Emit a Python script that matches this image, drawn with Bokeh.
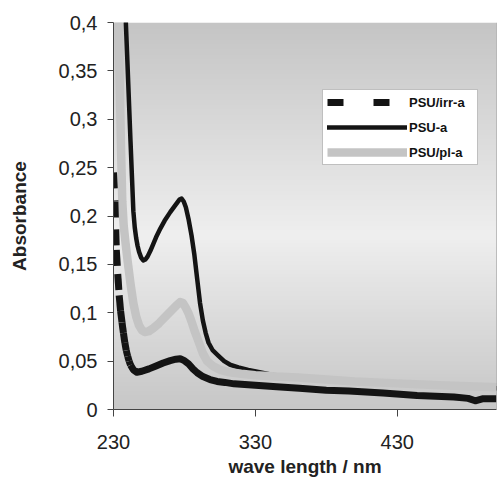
import numpy as np
from bokeh.plotting import figure
from bokeh.models import Range1d, FixedTicker, Legend, LegendItem, Span
from bokeh.embed import file_html
from bokeh.resources import INLINE

# ---------------- data ----------------
psu_x = [237.5, 238.7, 240.0, 242.0, 244.0, 245.0, 246.0, 247.0, 248.0, 249.5, 251.0, 252.5,
         254.0, 256.0, 258.0, 260.0, 263.0, 266.0, 270.0, 274.0, 276.5, 278.0, 279.5, 281.0,
         283.0, 285.0, 287.0, 289.0, 291.0, 293.0, 295.0, 297.0, 300.0, 304.0, 308.0, 312.0,
         318.0, 325.0, 333.0, 345.0, 370.0, 400.0, 450.0, 500.0]
psu_y = [0.445, 0.400, 0.352, 0.277, 0.205, 0.188, 0.177, 0.169, 0.163, 0.157, 0.154, 0.155,
         0.158, 0.164, 0.171, 0.178, 0.187, 0.195, 0.204, 0.212, 0.217, 0.218, 0.215, 0.209,
         0.196, 0.180, 0.160, 0.135, 0.110, 0.092, 0.079, 0.069, 0.061, 0.0555, 0.0500, 0.0465,
         0.0435, 0.0410, 0.0385, 0.035, 0.031, 0.028, 0.025, 0.022]

pl_x = [232.5, 233.6, 234.5, 235.3, 236.2, 237.2, 238.5, 240.0, 242.0, 244.0, 246.0, 248.0,
        250.0, 252.0, 255.0, 258.0, 262.0, 266.0, 270.0, 274.0, 277.0, 279.0, 281.0, 283.0,
        285.0, 287.0, 289.0, 291.0, 293.0, 296.0, 300.0, 305.0, 312.0, 320.0, 330.0, 345.0,
        360.0, 380.0, 400.0, 430.0, 460.0, 500.0]
pl_y = [0.46, 0.40, 0.33, 0.27, 0.215, 0.190, 0.172, 0.153, 0.130, 0.110, 0.096, 0.087,
        0.082, 0.080, 0.081, 0.084, 0.089, 0.095, 0.101, 0.107, 0.111, 0.110, 0.105, 0.099,
        0.091, 0.082, 0.074, 0.066, 0.058, 0.050, 0.045, 0.041, 0.0385, 0.037, 0.0355, 0.034,
        0.033, 0.031, 0.029, 0.027, 0.025, 0.023]

irr_x = [230.0, 231.0, 232.0, 233.0, 234.0, 235.0, 236.0, 237.0, 238.0, 239.0, 240.0, 241.0,
         242.0, 244.0, 246.5, 250.0, 255.0, 260.0, 265.0, 270.0, 274.0, 277.0, 280.0, 283.0,
         286.0, 289.0, 293.0, 298.0, 303.0, 308.5, 315.0, 330.0, 345.0, 361.0, 380.0, 396.0,
         420.0, 444.0, 470.0, 480.0, 485.0, 490.0, 500.0]
irr_y = [0.245, 0.215, 0.165, 0.140, 0.118, 0.102, 0.090, 0.079, 0.069, 0.061, 0.055, 0.050,
         0.046, 0.041, 0.0385, 0.0395, 0.042, 0.045, 0.048, 0.0505, 0.052, 0.0525, 0.0505, 0.047,
         0.042, 0.038, 0.034, 0.031, 0.029, 0.028, 0.0265, 0.025, 0.0235, 0.022, 0.020, 0.019,
         0.017, 0.0145, 0.013, 0.0115, 0.009, 0.011, 0.011]

series_labels = ["PSU/irr-a", "PSU-a", "PSU/pl-a"]

x_ticks = [230, 330, 430]
x_tick_labels = ["230", "330", "430"]
y_ticks = [0, 0.05, 0.1, 0.15, 0.2, 0.25, 0.3, 0.35, 0.4]
y_tick_labels = ["0", "0,05", "0,1", "0,15", "0,2", "0,25", "0,3", "0,35", "0,4"]

X_MIN, X_MAX = 230, 500
Y_MIN, Y_MAX = 0, 0.4

FONT = "Liberation Sans"
BLACK = "#141414"
GRAY = "#c4c4c4"
AXIS = "#444444"

p = figure(width=497, height=479, output_backend="svg", toolbar_location=None,
           x_range=Range1d(X_MIN, X_MAX), y_range=Range1d(Y_MIN, Y_MAX),
           min_border_left=113, min_border_right=1, min_border_top=22, min_border_bottom=69)
p.outline_line_color = None
p.background_fill_color = "white"
p.border_fill_color = "white"
p.xgrid.visible = False
p.ygrid.visible = False

# gradient background of the plot area (dark at top/bottom, light in the middle)
rows = 256
t = np.linspace(0.0, 1.0, rows)        # 0 = bottom, 1 = top
c_mid, c_top, c_bot, t_mid = 239.0, 197.0, 199.0, 0.45
g = np.where(t < t_mid, c_mid + (c_bot - c_mid) * (t_mid - t) / t_mid,
             c_mid + (c_top - c_mid) * (t - t_mid) / (1 - t_mid))
img = np.empty((rows, 1), dtype=np.uint32)
view = img.view(dtype=np.uint8).reshape((rows, 1, 4))
view[:, :, 0] = g[:, None].astype(np.uint8)
view[:, :, 1] = g[:, None].astype(np.uint8)
view[:, :, 2] = g[:, None].astype(np.uint8)
view[:, :, 3] = 255
p.image_rgba(image=[img], x=X_MIN, y=Y_MIN, dw=X_MAX - X_MIN, dh=Y_MAX - Y_MIN, level="image")

# PSU-a (solid black)
r_psu = p.line(psu_x, psu_y, line_color=BLACK, line_width=4.5, line_cap="round", line_join="round")
# PSU/pl-a (light gray, thick)
r_pl = p.line(pl_x, pl_y, line_color=GRAY, line_width=8.5, line_join="round")
# PSU/irr-a: dash pattern restarts on each data segment, as in the source program
n_steep = sum(1 for v in irr_x if v <= 242)
p.segment(x0=irr_x[:n_steep - 1], y0=irr_y[:n_steep - 1], x1=irr_x[1:n_steep], y1=irr_y[1:n_steep],
          line_color=BLACK, line_width=7, line_dash="16 12", line_cap="butt")
p.line(irr_x[n_steep - 1:], irr_y[n_steep - 1:], line_color=BLACK, line_width=7, line_join="round")
# single-point line: draws nothing in the plot, only supplies the legend sample
r_irr_leg = p.line(irr_x[:1], irr_y[:1], line_color=BLACK, line_width=7, line_dash="16 30",
                   line_cap="butt")

# right frame edge
p.add_layout(Span(location=X_MAX, dimension="height", line_color="#808080", line_width=1))

# axes
for ax in (p.xaxis[0], p.yaxis[0]):
    ax.axis_line_color = AXIS
    ax.major_tick_line_color = AXIS
    ax.minor_tick_line_color = None
    ax.major_tick_in = 0
    ax.major_label_text_font = FONT
    ax.major_label_text_font_size = "20px"
    ax.major_label_text_color = "#222222"
    ax.axis_label_text_font = FONT
    ax.axis_label_text_font_style = "bold"
    ax.axis_label_text_font_size = "19px"
    ax.axis_label_text_color = "#222222"

p.xaxis.ticker = FixedTicker(ticks=x_ticks)
p.xaxis.major_label_overrides = dict(zip(x_ticks, x_tick_labels))
p.xaxis.major_tick_out = 7
p.xaxis.major_label_standoff = 18
p.xaxis.axis_label = "wave length / nm"
p.xaxis.axis_label_standoff = 4

p.yaxis.ticker = FixedTicker(ticks=y_ticks)
p.yaxis.major_label_overrides = dict(zip(y_ticks, y_tick_labels))
p.yaxis.major_tick_out = 6
p.yaxis.major_label_standoff = 10
p.yaxis.axis_label = "Absorbance"
p.yaxis.axis_label_standoff = 26

legend = Legend(items=[LegendItem(label=series_labels[0], renderers=[r_irr_leg]),
                       LegendItem(label=series_labels[1], renderers=[r_psu]),
                       LegendItem(label=series_labels[2], renderers=[r_pl])],
                location=(209, 244), orientation="vertical", margin=0, padding=4, spacing=9,
                glyph_width=80, glyph_height=16, label_height=16, label_width=64,
                label_standoff=2, label_text_font=FONT, label_text_font_size="13px",
                label_text_font_style="bold", label_text_color="#111111",
                border_line_color="#808080", border_line_width=1,
                background_fill_color="white", background_fill_alpha=1.0)
p.add_layout(legend, "center")

open("out.html", "w").write(file_html(p, INLINE))
